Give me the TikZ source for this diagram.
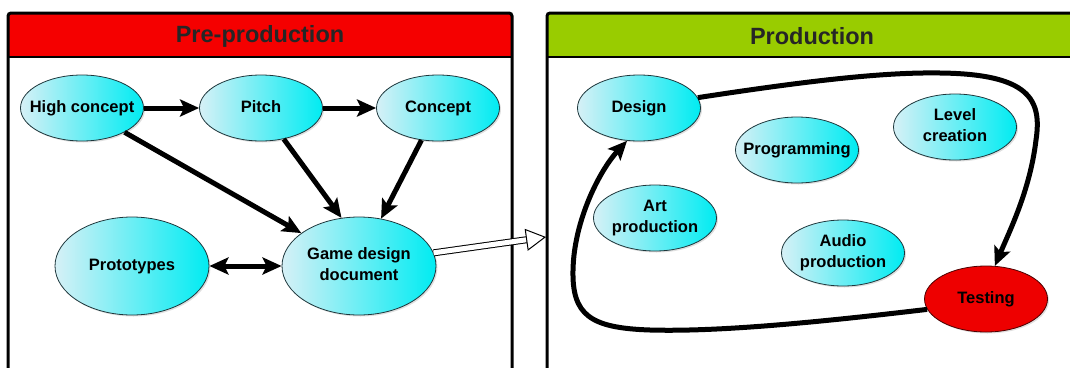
\documentclass[tikz,border=0pt]{standalone}
\usepackage{fontspec}
\setmainfont{Liberation Sans}
\usetikzlibrary{arrows.meta,shapes.geometric,shadows}
\definecolor{hdred}{RGB}{245,0,0}
\definecolor{hdgreen}{RGB}{153,204,0}
\definecolor{pale}{RGB}{214,240,246}
\definecolor{aqua}{RGB}{0,236,242}
\definecolor{rim}{RGB}{30,55,60}
\definecolor{alarm}{RGB}{238,0,0}
\newcommand\lbl[1]{\makebox[0pt]{\begin{tabular}{@{}c@{}}#1\end{tabular}}}
\begin{document}
\begin{tikzpicture}[x=1pt,y=-1pt,
  oval/.style={ellipse,draw=rim,line width=.8pt,inner sep=0pt,
    minimum width=123pt,minimum height=66pt,
    font=\fontsize{16.5}{21}\selectfont\bfseries,
    drop shadow={shadow xshift=1.5pt,shadow yshift=-1.5pt,opacity=.25}},
  blob/.style={oval,left color=pale,right color=aqua},
  bigblob/.style={blob,minimum width=154pt,minimum height=98pt},
  hot/.style={oval,fill=alarm,draw=black!70!red},
  head/.style={font=\fontsize{23.5}{28}\selectfont\bfseries,text=black!85},
  frame/.style={line width=3pt,rounded corners=3pt},
  tip/.style={Stealth[length=19pt,width=17pt,inset=4pt]},
  flow/.style={line width=5pt,-{Stealth[length=19pt,width=17pt,inset=4pt]}},
  twoway/.style={line width=5pt,{Stealth[length=19pt,width=17pt,inset=4pt]}-{Stealth[length=19pt,width=17pt,inset=4pt]}},
  handover/.style={line width=1pt,double=white,double distance=5pt,
    -{Triangle[open,fill=white,length=20pt,width=22pt]}}]
\useasboundingbox (0,0) rectangle (1070,367);
\clip (0,0) rectangle (1070,367);
%%%% panels
\fill[hdred] (8,57) {[rounded corners=3pt] -- (8,13) -- (512,13)} -- (512,57) -- cycle;
\draw[frame] (8,420) -- (8,13) -- (512,13) -- (512,420);
\draw[line width=2.5pt] (8,57) -- (512,57);
\node[head] (pretitle) at (260,36) {Pre-production};
\fill[hdgreen] (547,57) {[rounded corners=3pt] -- (547,13) -- (1077,13)} -- (1077,57) -- cycle;
\draw[frame] (547,420) -- (547,13) -- (1077,13) -- (1077,420);
\draw[line width=2.5pt] (547,57) -- (1077,57);
\node[head] (prodtitle) at (812,36) {Production};
%%%% pre-production
\node[blob] (hc) at (82,108) {\lbl{High concept}};
\node[blob] (pitch) at (261,108) {\lbl{Pitch}};
\node[blob] (concept) at (438,108) {\lbl{Concept}};
\node[bigblob] (proto) at (132,266) {\lbl{Prototypes}};
\node[bigblob] (gdd) at (359,266) {\lbl{Game design\\document}};
\draw[flow] (hc) -- (pitch);
\draw[flow] (pitch) -- (concept);
\draw[flow] (hc) -- (gdd);
\draw[flow] (pitch) -- (gdd.110);
\draw[flow] (concept) -- (gdd.65);
\draw[twoway] (proto) -- (gdd);
\coordinate (prodin) at (546,237);
\draw[handover] (gdd.10) -- (prodin);
%%%% production
\node[blob] (design) at (639,108) {\lbl{Design}};
\node[blob] (prog) at (797,150) {\lbl{Programming}};
\node[blob] (level) at (955,127) {\lbl{Level\\creation}};
\node[blob] (art) at (655,218) {\lbl{Art\\production}};
\node[blob] (audio) at (843,253) {\lbl{Audio\\production}};
\node[hot] (test) at (986,299) {\lbl{Testing}};
\draw[flow] (design.10) .. controls (800,82) and (880,72) .. (940,73)
  .. controls (1030,74) and (1042,100) .. (1036,140)
  .. controls (1030,190) and (1010,230) .. (test.75);
\draw[flow] (test.190) .. controls (820,322) and (720,332) .. (650,330)
  .. controls (590,328) and (572,315) .. (573,270)
  .. controls (574,220) and (600,170) .. (design.250);
\end{tikzpicture}
\end{document}
